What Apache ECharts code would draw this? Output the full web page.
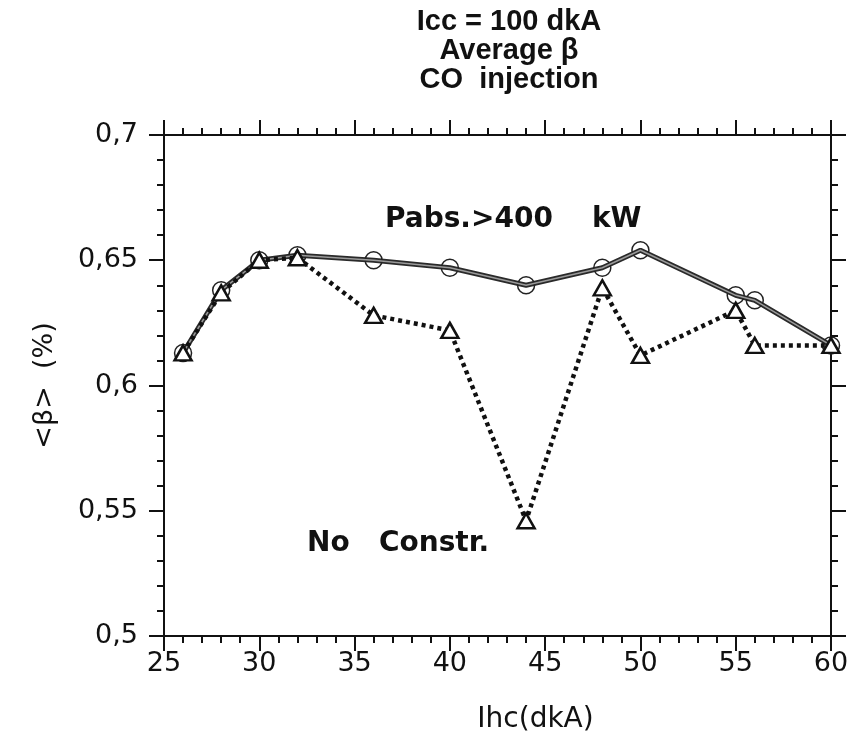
<!DOCTYPE html>
<html><head><meta charset="utf-8">
<script src="https://cdn.jsdelivr.net/npm/echarts@6/dist/echarts.min.js"></script>
<style>html,body{margin:0;padding:0;background:#fff}#c{width:856px;height:741px}</style>
</head><body><div id="c"></div>
<script>
const ihc = [26, 28, 30, 32, 36, 40, 44, 48, 50, 55, 56, 60];
const betaPabs = [0.613, 0.638, 0.650, 0.652, 0.650, 0.647, 0.640, 0.647, 0.654, 0.636, 0.634, 0.616];
const betaNoConstr = [0.613, 0.637, 0.650, 0.651, 0.628, 0.622, 0.546, 0.639, 0.612, 0.630, 0.616, 0.616];
const titleLines = ['Icc = 100 dkA', 'Average β', 'CO  injection'];
const xName = 'Ihc(dkA)';
const yName = '<β>  (%)';
const labelPabs = 'Pabs.>400    kW';
const labelNoConstr = 'No   Constr.';

const chart = echarts.init(document.getElementById('c'));
const fmtY = v => String(+(+v).toFixed(2)).replace('.', ',');
const axFont = {fontFamily: 'DejaVu Sans', fontSize: 27, color: '#111'};
const common = {
  axisLine: {show: true, lineStyle: {color: '#111', width: 2}},
  axisTick: {show: true, inside: false, length: 15, lineStyle: {color: '#111', width: 2}},
  minorTick: {show: true, splitNumber: 5, length: 7, lineStyle: {color: '#111', width: 2}},
  splitLine: {show: false}
};
chart.setOption({
  animation: false,
  backgroundColor: '#fff',
  title: {
    text: titleLines.join('\n'), left: 504, top: 2, textAlign: 'center',
    textStyle: {fontFamily: 'Liberation Sans', fontWeight: 'bold', fontSize: 29, lineHeight: 29, color: '#111'}
  },
  grid: {left: 164, right: 25, top: 135, bottom: 105},
  xAxis: [
    Object.assign({type: 'value', min: 25, max: 60, interval: 5, position: 'bottom',
      name: xName, nameLocation: 'middle', nameGap: 70,
      nameTextStyle: {fontFamily: 'DejaVu Sans', fontSize: 28, color: '#111', padding: [0, 0, 0, 76]},
      axisLabel: Object.assign({margin: 14}, axFont)}, common),
    Object.assign({type: 'value', min: 25, max: 60, interval: 5, position: 'top',
      axisLabel: {show: false}}, common)
  ],
  yAxis: [
    Object.assign({type: 'value', min: 0.5, max: 0.7, interval: 0.05, position: 'left',
      name: yName, nameLocation: 'middle', nameGap: 106, nameRotate: 90,
      nameTextStyle: {fontFamily: 'DejaVu Sans', fontSize: 27, color: '#111'},
      axisLabel: Object.assign({margin: 26, formatter: fmtY}, axFont)}, common),
    Object.assign({type: 'value', min: 0.5, max: 0.7, interval: 0.05, position: 'right',
      axisLabel: {show: false}}, common)
  ],
  series: [
    {
      type: 'line', name: 'Pabs', data: ihc.map((x, i) => [x, betaPabs[i]]),
      symbol: 'circle', symbolSize: 17, showAllSymbol: true,
      itemStyle: {color: 'rgba(255,255,255,0)', borderColor: '#222', borderWidth: 1.5},
      lineStyle: {color: '#2a2a2a', width: 5}, z: 3
    },
    {
      type: 'line', name: 'Pabs-inner', data: ihc.map((x, i) => [x, betaPabs[i]]),
      symbol: 'none', lineStyle: {color: '#9a9a9a', width: 1.5}, z: 4, silent: true
    },
    {
      type: 'line', name: 'NoConstr', data: ihc.map((x, i) => [x, betaNoConstr[i]]),
      symbol: 'triangle', symbolSize: [17, 15], showAllSymbol: true,
      itemStyle: {color: '#fff', borderColor: '#111', borderWidth: 2.5},
      lineStyle: {color: '#111', width: 4.5, type: [4, 4]}, z: 5
    }
  ],
  graphic: [
    {type: 'text', left: 385, top: 206, style: {text: labelPabs, fontFamily: 'DejaVu Sans', fontWeight: 'bold', fontSize: 28, fill: '#111'}},
    {type: 'text', left: 307, top: 530, style: {text: labelNoConstr, fontFamily: 'DejaVu Sans', fontWeight: 'bold', fontSize: 28, fill: '#111'}}
  ]
});
</script></body></html>
